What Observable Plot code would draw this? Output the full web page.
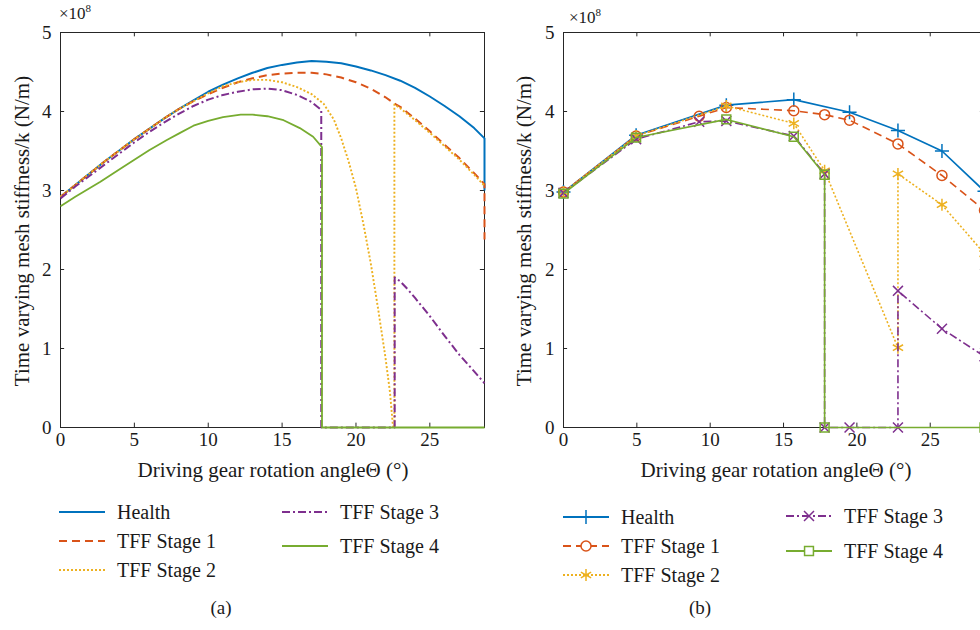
<!DOCTYPE html>
<html><head><meta charset="utf-8">
<script src="https://cdn.jsdelivr.net/npm/d3@7"></script>
<script src="https://cdn.jsdelivr.net/npm/@observablehq/plot@0.6"></script>
<style>
html,body{margin:0;padding:0;background:#fff;overflow:hidden;width:980px;height:630px;}
#root{position:relative;width:980px;height:630px;overflow:hidden;font-family:"Liberation Serif",serif;color:#1a1a1a;}
.panel{position:absolute;top:0;width:500px;}
.panel svg{max-width:none !important;}
.exp{position:absolute;font-family:"Liberation Serif",serif;font-size:17px;line-height:1;}
.exp sup{font-size:11px;vertical-align:7px;}
.sw{position:absolute;}
.lt{position:absolute;font-family:"Liberation Serif",serif;font-size:20px;line-height:1;transform:translateY(-50%);white-space:nowrap;}
.cap{position:absolute;font-family:"Liberation Serif",serif;font-size:19px;line-height:1;transform:translate(-50%,-50%);}
.axl{position:absolute;font-family:"Liberation Serif",serif;font-size:21px;line-height:1;white-space:nowrap;}
</style></head><body><div id="root"></div>
<script>
// ---------- data ----------
const seriesNames = ["Health", "TFF Stage 1", "TFF Stage 2", "TFF Stage 3", "TFF Stage 4"];
const xTicks = [0, 5, 10, 15, 20, 25];
const yTicks = [0, 1, 2, 3, 4, 5];
const xMax = 28.7;
const xLabel = "Driving gear rotation angleΘ (°)";
const yLabel = "Time varying mesh stiffness/k (N/m)";

// panel (a): continuous curves (values x10^8 N/m)
const aHealthX = [0,1,2,3,4,5,6,7,8,9,10,11,12,13,14,15,16,17,18,19,20,21,22,23,24,25,26,27,28,28.7,28.7];
const aHealthY = [2.92,3.07,3.22,3.37,3.51,3.65,3.78,3.91,4.03,4.14,4.25,4.34,4.42,4.49,4.55,4.59,4.62,4.64,4.63,4.61,4.57,4.52,4.46,4.39,4.30,4.19,4.07,3.94,3.79,3.66,3.00];
const aS1X = [0,1,2,3,4,5,6,7,8,9,10,11,12,13,14,15,16,17,18,19,20,21,22,22.7,23,24,25,26,27,28,28.7,28.7];
const aS1Y = [2.92,3.07,3.22,3.37,3.51,3.65,3.78,3.91,4.03,4.13,4.22,4.30,4.37,4.42,4.46,4.48,4.49,4.49,4.47,4.43,4.37,4.29,4.18,4.09,4.06,3.91,3.75,3.58,3.41,3.22,3.08,2.38];
const aS2X = [0,1,2,3,4,5,6,7,8,9,10,11,12,13,14,15,16,17,17.8,18.5,19,19.5,20,20.5,21,21.5,22,22.3,22.5,22.6,22.6,23,24,25,26,27,28,28.7];
const aS2Y = [2.92,3.07,3.22,3.37,3.51,3.65,3.78,3.91,4.03,4.13,4.23,4.32,4.37,4.40,4.40,4.37,4.31,4.22,4.10,3.90,3.66,3.37,3.03,2.58,2.08,1.50,0.88,0.45,0.02,0,4.09,4.04,3.89,3.73,3.56,3.39,3.20,3.06];
const aS3X = [0,1,2,3,4,5,6,7,8,9,10,11,12,13,14,15,16,17,17.65,17.65,17.65,22.62,22.62,23,23.5,24,25,26,27,28,28.7];
const aS3Y = [2.90,3.05,3.19,3.33,3.47,3.61,3.74,3.86,3.97,4.07,4.15,4.21,4.25,4.28,4.29,4.27,4.21,4.12,4.02,3.55,0,0,1.90,1.85,1.75,1.64,1.41,1.16,0.92,0.71,0.56];
const aS4X = [0,1,2.7,4,5,6,7.2,8,9,10,11,12.2,13,14,15.1,16.2,17.1,17.7,17.7,28.7];
const aS4Y = [2.80,2.92,3.11,3.27,3.39,3.51,3.64,3.72,3.82,3.88,3.93,3.96,3.96,3.94,3.89,3.79,3.68,3.55,0,0];

// panel (b): sampled points with markers
const bHealthX = [0,4.95,11.1,15.7,19.5,22.8,25.8,28.7];
const bHealthY = [2.98,3.70,4.08,4.15,3.99,3.76,3.50,2.99];
const bS1X = [0,4.95,9.25,11.1,15.7,17.8,19.5,22.8,25.8,28.7];
const bS1Y = [2.98,3.69,3.94,4.05,4.01,3.96,3.89,3.59,3.19,2.75];
const bS2X = [0,4.95,11.1,15.7,17.8,22.8,22.8,25.8,28.7];
const bS2Y = [2.98,3.69,4.07,3.85,3.25,1.01,3.21,2.82,2.20];
const bS3X = [0,4.95,9.25,11.1,15.7,17.8,17.8,19.5,22.8,22.8,25.8,28.7];
const bS3Y = [2.97,3.65,3.87,3.88,3.69,3.21,0,0,0,1.73,1.25,0.90];
const bS4X = [0,4.95,11.1,15.7,17.8,17.8,28.7];
const bS4Y = [2.96,3.67,3.90,3.68,3.20,0,0];

// ---------- styles ----------
const colors = ["#0072BD", "#D95319", "#EDB120", "#7E2F8E", "#77AC30"];
const dashes = [null, "8,5", "2,2", "8,3,2,3", null];
const widthsA = [2, 2, 1.9, 2, 1.8];
const widthsB = [1.7, 1.6, 1.6, 1.6, 1.6];
const symbols = ["plus", "circle", "asterisk", "times", "square"];
const symR = [4.6, 5, 5.6, 4.6, 5];

function rows(xs, ys) { return xs.map((x, i) => ({x, y: ys[i]})); }
const aData = [rows(aHealthX, aHealthY), rows(aS1X, aS1Y), rows(aS2X, aS2Y), rows(aS3X, aS3Y), rows(aS4X, aS4Y)];
const bData = [rows(bHealthX, bHealthY), rows(bS1X, bS1Y), rows(bS2X, bS2Y), rows(bS3X, bS3Y), rows(bS4X, bS4Y)];

const axisColor = "#262626";
function makePanel(data, withMarkers, marginLeft, plotW) {
  const marks = [
    Plot.frame({stroke: axisColor, strokeWidth: 1}),
    Plot.ruleX(xTicks, {x: d => d, y1: 0, y2: 0.055, stroke: axisColor}),
    Plot.ruleX(xTicks, {x: d => d, y1: 5 - 0.055, y2: 5, stroke: axisColor}),
    Plot.ruleY(yTicks, {y: d => d, x1: 0, x2: 0.28, stroke: axisColor}),
    Plot.ruleY(yTicks, {y: d => d, x1: xMax - 0.28, x2: xMax, stroke: axisColor})
  ];
  data.forEach((d, i) => {
    marks.push(Plot.line(d, {x: "x", y: "y", stroke: colors[i],
      strokeWidth: withMarkers ? widthsB[i] : widthsA[i],
      strokeDasharray: dashes[i], strokeLinejoin: "round", strokeLinecap: "butt"}));
    if (withMarkers) {
      marks.push(Plot.dot(d, {x: "x", y: "y", symbol: () => symbols[i], r: symR[i],
        stroke: colors[i], fill: "none", strokeWidth: 1.5}));
    }
  });
  return Plot.plot({
    width: marginLeft + plotW + 6, height: 460,
    marginLeft, marginRight: 6, marginTop: 32, marginBottom: 33,
    x: {domain: [0, xMax], ticks: xTicks, tickSize: 0, tickPadding: 5, tickFormat: d => String(d), label: null},
    y: {domain: [0, 5], ticks: yTicks, tickSize: 0, tickPadding: 9, tickFormat: d => String(d), label: null},
    symbol: {type: "identity"},
    style: {fontFamily: '"Liberation Serif",serif', fontSize: "19px", color: "#1a1a1a", background: "transparent", overflow: "visible", maxWidth: "none"},
    marks
  });
}

const root = document.getElementById("root");
function place(el, left, top, cls) { const w = document.createElement("div"); w.className = cls; w.style.left = left + "px"; w.style.top = top + "px"; w.appendChild(el); root.appendChild(w); return w; }

place(makePanel(aData, false, 60, 424), 0, 0, "panel");
place(makePanel(bData, true, 63, 421), 500, 0, "panel");

function addText(cls, txt, x, y, transform) {
  const d = document.createElement("div"); d.className = cls; d.style.left = x + "px"; d.style.top = y + "px";
  d.textContent = txt; if (transform) d.style.transform = transform; root.appendChild(d); return d;
}
// axis titles
addText("axl", xLabel, 273, 470, "translate(-50%,-50%)");
addText("axl", xLabel, 776, 470, "translate(-50%,-50%)");
addText("axl", yLabel, 22, 231, "translate(-50%,-50%) rotate(-90deg)");
addText("axl", yLabel, 524, 231, "translate(-50%,-50%) rotate(-90deg)");

function expLabel(left, top) {
  const d = document.createElement("div"); d.className = "exp"; d.style.left = left + "px"; d.style.top = top + "px";
  d.innerHTML = "×10<sup>8</sup>"; root.appendChild(d);
}
expLabel(59, 3);
expLabel(569, 7);

function swatch(i, withMarker) {
  const svg = d3.create("svg").attr("width", 46).attr("height", 16);
  svg.append("line").attr("x1", 0).attr("x2", 46).attr("y1", 8).attr("y2", 8)
    .attr("stroke", colors[i]).attr("stroke-width", withMarker ? widthsB[i] + 0.3 : widthsA[i])
    .attr("stroke-dasharray", dashes[i]);
  if (withMarker) {
    const typeMap = {plus: d3.symbolPlus, circle: d3.symbolCircle, asterisk: d3.symbolAsterisk, times: d3.symbolTimes, square: d3.symbolSquare};
    svg.append("path").attr("transform", "translate(23,8)")
      .attr("d", d3.symbol(typeMap[symbols[i]], Math.PI * symR[i] * symR[i])())
      .attr("fill", "white").attr("stroke", colors[i]).attr("stroke-width", 1.5);
  }
  return svg.node();
}
function legendItem(i, x, y, withMarker) {
  place(swatch(i, withMarker), x, y - 8, "sw");
  addText("lt", seriesNames[i], x + 58, y);
}
// legend (a)
legendItem(0, 59, 512, false);
legendItem(1, 59, 541, false);
legendItem(2, 59, 570, false);
legendItem(3, 282, 512, false);
legendItem(4, 282, 546, false);
// legend (b)
legendItem(0, 563, 517, true);
legendItem(1, 563, 546, true);
legendItem(2, 563, 575, true);
legendItem(3, 786, 516, true);
legendItem(4, 786, 551, true);

addText("cap", "(a)", 221, 607);
addText("cap", "(b)", 700, 607);
</script></body></html>
